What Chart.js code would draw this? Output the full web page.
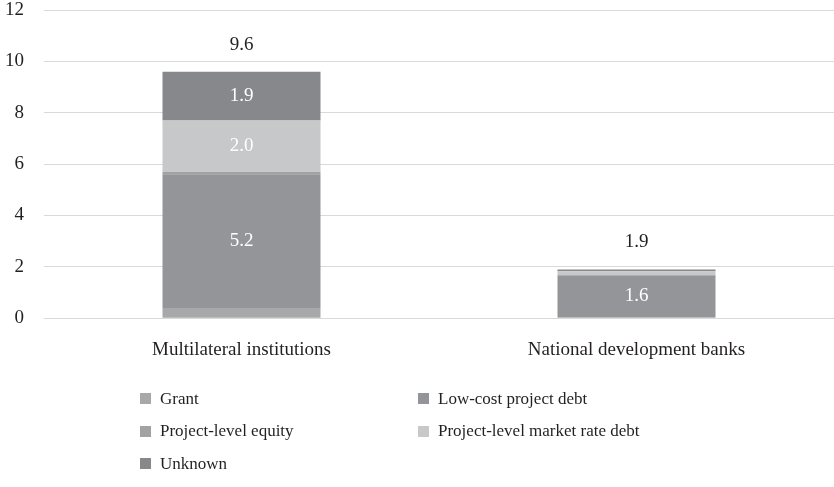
<!DOCTYPE html>
<html>
<head>
<meta charset="utf-8">
<script src="https://cdn.jsdelivr.net/npm/chart.js@4.4.1/dist/chart.umd.min.js"></script>
<style>
  html, body { margin: 0; padding: 0; background: #fff; }
  #wrap { position: relative; width: 834px; height: 487px; }
  #legend { position: absolute; left: 137px; top: 388px; width: 600px;
            display: grid; grid-template-columns: 278px 300px; row-gap: 11.5px;
            font-family: "Liberation Serif", serif; font-size: 17px; color: #231f20; }
  #legend .item { display: flex; align-items: center; height: 21px; }
  #legend .box { width: 11px; height: 11px; margin-right: 9px; margin-left: 3px; }
</style>
</head>
<body>
<div id="wrap">
  <canvas id="chart" width="834" height="487"></canvas>
  <div id="legend"></div>
</div>
<script>
const categories = ['Multilateral institutions', 'National development banks'];
const seriesNames = ['Grant', 'Low-cost project debt', 'Project-level equity', 'Project-level market rate debt', 'Unknown'];
const grant = [0.4, 0.05];
const lowCostDebt = [5.2, 1.6];
const equity = [0.1, 0.03];
const marketRateDebt = [2.0, 0.15];
const unknown = [1.9, 0.07];
const yTicks = [0, 2, 4, 6, 8, 10, 12];

const colors = ['#a7a8aa', '#939598', '#a1a2a4', '#c7c8ca', '#87888b'];
const allSeries = [grant, lowCostDebt, equity, marketRateDebt, unknown];
const fontFam = '"Liberation Serif", serif';

// labels drawn inside big segments and totals above each stack
const labelPlugin = {
    id: 'valueLabels',
    afterDatasetsDraw(chart) {
        const ctx = chart.ctx;
        ctx.save();
        ctx.font = '19px ' + fontFam;
        ctx.textAlign = 'center';
        ctx.textBaseline = 'middle';
        chart.data.datasets.forEach((ds, i) => {
            const meta = chart.getDatasetMeta(i);
            meta.data.forEach((bar, j) => {
                const v = ds.data[j];
                if (v < 1) return;
                ctx.fillStyle = '#ffffff';
                ctx.fillText(v.toFixed(1), bar.x, (bar.y + bar.base) / 2);
            });
        });
        const yScale = chart.scales.y;
        categories.forEach((c, j) => {
            let total = 0;
            allSeries.forEach(s => total += s[j]);
            const bar = chart.getDatasetMeta(allSeries.length - 1).data[j];
            ctx.fillStyle = '#231f20';
            ctx.fillText(total.toFixed(1), bar.x, yScale.getPixelForValue(total) - 27);
        });
        ctx.restore();
    }
};

const chart = new Chart(document.getElementById('chart'), {
    type: 'bar',
    data: {
        labels: categories,
        datasets: seriesNames.map((name, i) => ({
            label: name,
            data: allSeries[i],
            backgroundColor: colors[i],
            borderWidth: 0,
            categoryPercentage: 1,
            barPercentage: 0.4
        }))
    },
    options: {
        responsive: false,
        animation: false,
        layout: { padding: { left: -15, right: 0, top: 0, bottom: 106 } },
        plugins: { legend: { display: false }, tooltip: { enabled: false } },
        scales: {
            x: {
                stacked: true,
                grid: { display: false, drawTicks: false },
                border: { display: false },
                ticks: { color: '#231f20', font: { family: fontFam, size: 19 }, padding: 20 }
            },
            y: {
                stacked: true,
                min: 0, max: 12,
                afterBuildTicks: axis => { axis.ticks = yTicks.map(v => ({ value: v })); },
                afterFit: axis => { axis.paddingTop = 10; },
                grid: { color: '#d9d9d9', lineWidth: 1, drawTicks: false },
                border: { display: false },
                ticks: { color: '#231f20', font: { family: fontFam, size: 19 }, padding: 20 }
            }
        }
    },
    plugins: [labelPlugin]
});

const legendEl = document.getElementById('legend');
chart.data.datasets.forEach(ds => {
    const item = document.createElement('div');
    item.className = 'item';
    const box = document.createElement('span');
    box.className = 'box';
    box.style.background = ds.backgroundColor;
    const txt = document.createElement('span');
    txt.textContent = ds.label;
    item.appendChild(box);
    item.appendChild(txt);
    legendEl.appendChild(item);
});
</script>
</body>
</html>
